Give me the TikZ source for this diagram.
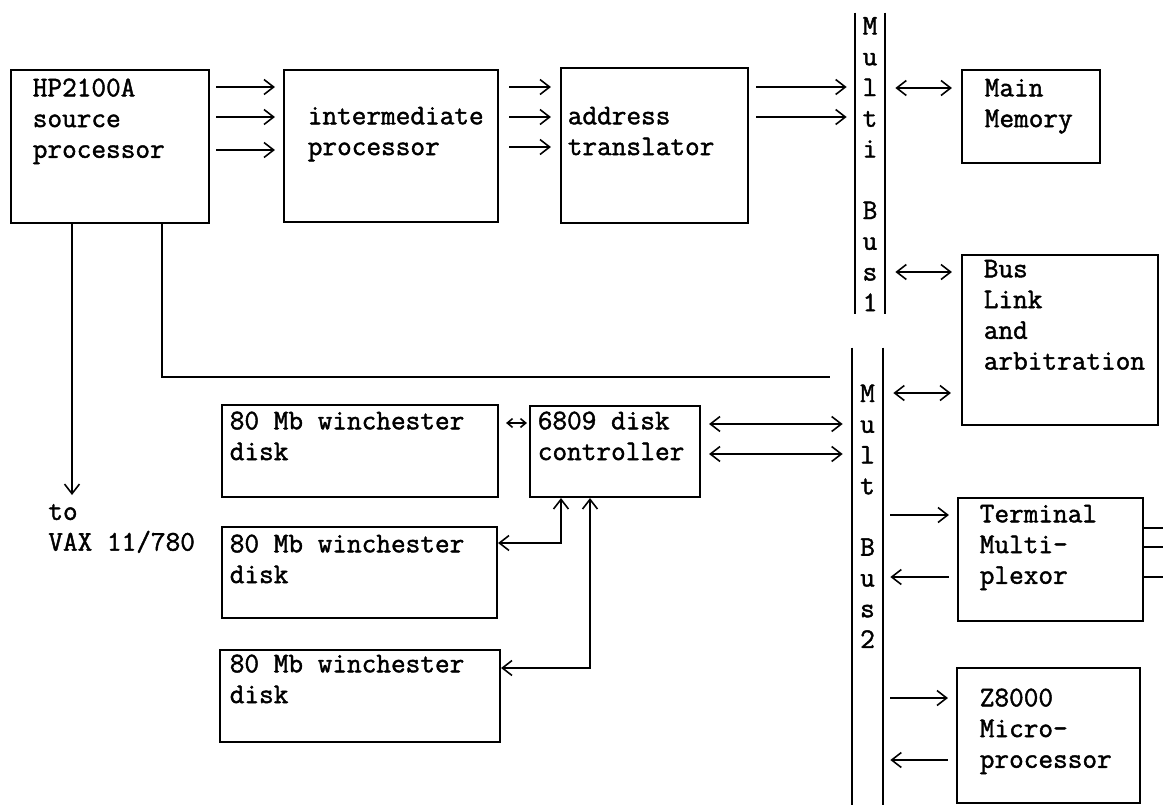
\documentclass[tikz,border=0pt]{standalone}
\usepackage{fontspec}
\newfontfamily\typer[FakeBold=1.5]{Latin Modern Mono}
\usetikzlibrary{arrows.meta,fit}

\begin{document}
\begin{tikzpicture}[x=0.02cm,y=-0.02cm]
  \tikzset{every node/.style={font=\typer\fontsize{16.2}{17.5}\selectfont}}
  \tikzset{box/.style={draw, line width=1.2pt, inner sep=0pt}}
  \tikzset{txt/.style={anchor=north west, align=left, inner sep=0pt}}
  \tikzset{bustxt/.style={anchor=north, align=center, inner sep=0pt}}
  \tikzset{arr/.style={-{Straight Barb[length=5.5pt,width=8.5pt]}, line width=0.9pt}}
  \tikzset{biarr/.style={{Straight Barb[length=5.5pt,width=8.5pt]}-{Straight Barb[length=5.5pt,width=8.5pt]}, line width=0.9pt}}
  \tikzset{wire/.style={line width=1.1pt}}

  \useasboundingbox (0,0) rectangle (1163,805);

  % upper row
  \node[box, fit={(11,70) (209,223)}, label={[txt, xshift=0.45cm, yshift=-0.11cm]north west:\strut HP2100A\\source\\processor}] (src) {};
  \node[box, fit={(284,70) (498,222)}, label={[txt, xshift=0.49cm, yshift=-0.67cm]north west:\strut intermediate\\processor}] (mid) {};
  \node[box, fit={(561,68) (748,223)}, label={[txt, xshift=0.15cm, yshift=-0.71cm]north west:\strut address\\translator}] (addr) {};

  % busses
  \node[fit={(855,13) (885,314)}, inner sep=0pt, label={[bustxt]north:\strut M\\u\\l\\t\\i\\[17.5pt]B\\u\\s\\1}] (bus1) {};
  \node[fit={(852,348) (883,805)}, inner sep=0pt, label={[bustxt, yshift=-0.65cm]north:\strut M\\u\\l\\t\\[17.5pt]B\\u\\s\\2}] (bus2) {};
  \draw[wire] (bus1.north west) -- (bus1.south west);
  \draw[wire] (bus1.north east) -- (bus1.south east);
  \draw[wire] (bus2.north west) -- (bus2.south west);
  \draw[wire] (bus2.north east) -- (bus2.south east);

  % right column
  \node[box, fit={(962,70) (1100,163)}, label={[txt, xshift=0.47cm, yshift=-0.11cm]north west:\strut Main\\Memory}] (mem) {};
  \node[box, fit={(962,255) (1158,425)}, label={[txt, xshift=0.45cm, yshift=-0.03cm]north west:\strut Bus\\Link\\and\\arbitration}] (link) {};
  \node[box, fit={(958,498) (1143,621)}, label={[txt, xshift=0.45cm, yshift=-0.07cm]north west:\strut Terminal\\Multi-\\plexor}] (term) {};
  \node[box, fit={(957,668) (1140,803)}, label={[txt, xshift=0.47cm, yshift=-0.35cm]north west:\strut Z8000\\Micro-\\processor}] (zcpu) {};

  % disks
  \node[box, fit={(530,406) (700,497)}, label={[txt, xshift=0.17cm, yshift=-0.05cm]north west:\strut 6809 disk\\controller}] (ctrl) {};
  \node[box, fit={(222,405) (498,497)}, label={[txt, xshift=0.17cm, yshift=-0.07cm]north west:\strut 80 Mb winchester\\disk}] (disk1) {};
  \node[box, fit={(222,527) (497,618)}, label={[txt, xshift=0.17cm, yshift=-0.09cm]north west:\strut 80 Mb winchester\\disk}] (disk2) {};
  \node[box, fit={(220,650) (500,742)}, label={[txt, xshift=0.21cm, yshift=-0.03cm]north west:\strut 80 Mb winchester\\disk}] (disk3) {};

  \node[txt] (vax) at (48,498) {\strut to\\VAX 11/780};

  % connections
  \draw[arr, shorten <=0.12cm, shorten >=0.16cm] (src.east |- 0,87) -- (mid.west |- 0,87);
  \draw[arr, shorten <=0.12cm, shorten >=0.16cm] (src.east |- 0,117) -- (mid.west |- 0,117);
  \draw[arr, shorten <=0.12cm, shorten >=0.16cm] (src.east |- 0,150) -- (mid.west |- 0,150);

  \draw[arr, shorten <=0.2cm, shorten >=0.18cm] (mid.east |- 0,87) -- (addr.west |- 0,87);
  \draw[arr, shorten <=0.2cm, shorten >=0.18cm] (mid.east |- 0,117) -- (addr.west |- 0,117);
  \draw[arr, shorten <=0.2cm, shorten >=0.18cm] (mid.east |- 0,147) -- (addr.west |- 0,147);

  \draw[arr, shorten <=0.14cm, shorten >=0.16cm] (addr.east |- 0,87) -- (bus1.west |- 0,87);
  \draw[arr, shorten <=0.14cm, shorten >=0.16cm] (addr.east |- 0,117) -- (bus1.west |- 0,117);

  \draw[biarr, shorten <=0.2cm, shorten >=0.18cm] (bus1.east |- 0,88) -- (mem.west |- 0,88);
  \draw[biarr, shorten <=0.2cm, shorten >=0.18cm] (bus1.east |- 0,272) -- (link.west |- 0,272);
  \draw[biarr, shorten <=0.2cm, shorten >=0.2cm] (bus2.east |- 0,393) -- (link.west |- 0,393);

  \draw[arr, shorten <=0.14cm, shorten >=0.16cm] (bus2.east |- 0,515) -- (term.west |- 0,515);
  \draw[arr, shorten <=0.16cm, shorten >=0.14cm] (term.west |- 0,577) -- (bus2.east |- 0,577);
  \draw[arr, shorten <=0.14cm, shorten >=0.16cm] (bus2.east |- 0,698) -- (zcpu.west |- 0,698);
  \draw[arr, shorten <=0.16cm, shorten >=0.14cm] (zcpu.west |- 0,760) -- (bus2.east |- 0,760);

  \draw[biarr, shorten <=0.16cm, shorten >=0.18cm] (ctrl.east |- 0,424) -- (bus2.west |- 0,424);
  \draw[biarr, shorten <=0.16cm, shorten >=0.18cm] (ctrl.east |- 0,454) -- (bus2.west |- 0,454);

  \draw[{Straight Barb[length=3pt,width=5pt]}-{Straight Barb[length=3pt,width=5pt]}, line width=0.9pt, shorten <=0.14cm, shorten >=0.04cm] (disk1.east |- 0,423) -- (ctrl.west |- 0,423);
  \draw[biarr] (disk2.east |- 0,543) -| (561,0 |- ctrl.south);
  \draw[biarr] (disk3.east |- 0,668) -| (590,0 |- ctrl.south);

  \draw[arr, shorten >=0.06cm] (72,0 |- src.south) -- (72,0 |- vax.north);

  \coordinate (lkend) at (830,377);
  \draw[wire] (162,0 |- src.south) |- (lkend);

  \coordinate (tout1) at (1163,528);
  \coordinate (tout2) at (1163,547);
  \coordinate (tout3) at (1163,577);
  \draw[wire] (term.east |- tout1) -- (tout1);
  \draw[wire] (term.east |- tout2) -- (tout2);
  \draw[wire] (term.east |- tout3) -- (tout3);
\end{tikzpicture}
\end{document}
